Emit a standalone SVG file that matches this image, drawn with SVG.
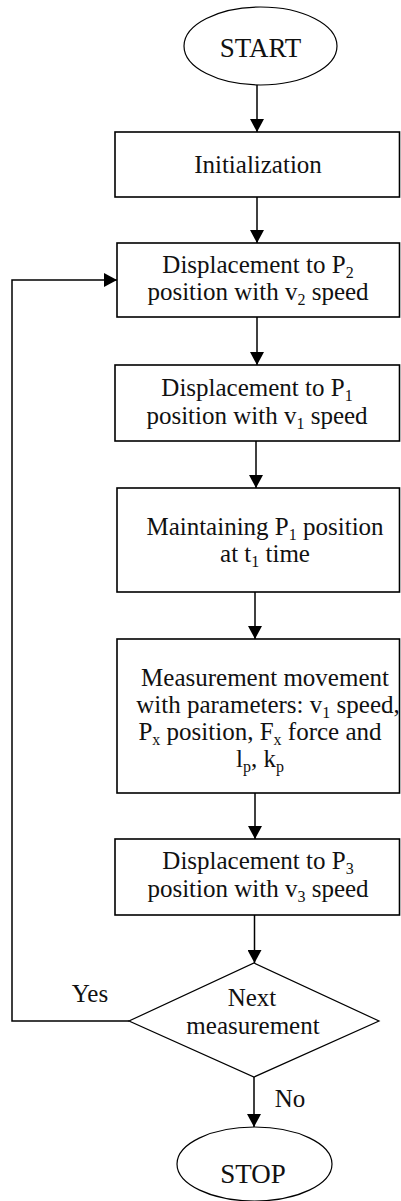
<svg xmlns="http://www.w3.org/2000/svg" width="401" height="1201" viewBox="0 0 401 1201">
<style>
.box{fill:#fff;stroke:#000;stroke-width:1.6}
.ell{fill:#fff;stroke:#000;stroke-width:1.2}
.t{font-size:25px;fill:#111;text-anchor:middle}
.tb{font-size:27px;fill:#111;text-anchor:middle}
.s{font-size:16px}
.c{fill:none;stroke:#000;stroke-width:1.5}
</style>
<defs>
<marker id="ah" markerUnits="userSpaceOnUse" markerWidth="14" markerHeight="14" refX="13" refY="7" orient="auto">
<path d="M0,0 L13,7 L0,14 z" fill="#000"/>
</marker>
</defs>
<rect width="401" height="1201" fill="#fff"/>
<g font-family="Liberation Serif, DejaVu Serif, serif">
<g id="connectors">
<line class="c" x1="257" y1="85" x2="257" y2="132" marker-end="url(#ah)"/>
<line class="c" x1="257" y1="197" x2="257" y2="243" marker-end="url(#ah)"/>
<line class="c" x1="257" y1="317" x2="257" y2="365" marker-end="url(#ah)"/>
<line class="c" x1="256" y1="441" x2="256" y2="488" marker-end="url(#ah)"/>
<line class="c" x1="255" y1="592" x2="255" y2="639" marker-end="url(#ah)"/>
<line class="c" x1="255" y1="793" x2="255" y2="839" marker-end="url(#ah)"/>
<line class="c" x1="254.5" y1="915" x2="254.5" y2="963" marker-end="url(#ah)"/>
<line class="c" x1="254" y1="1077" x2="254" y2="1127" marker-end="url(#ah)"/>
<polyline class="c" points="129,1021 12,1021 12,280 117,280" marker-end="url(#ah)"/>
<text class="t" x="90" y="1002">Yes</text>
<text class="t" x="290" y="1107">No</text>
</g>
<g id="start">
<ellipse class="ell" cx="260.5" cy="46" rx="76.5" ry="39"/>
<text class="tb" x="260.5" y="57">START</text>
</g>
<g id="init">
<rect class="box" x="115" y="132" width="284.5" height="65"/>
<text class="t" x="258" y="173">Initialization</text>
</g>
<g id="disp-p2">
<rect class="box" x="117" y="243" width="282.5" height="74"/>
<text class="t" x="258" y="273">Displacement to P<tspan class="s" baseline-shift="-5">2</tspan></text>
<text class="t" x="258" y="300">position with v<tspan class="s" baseline-shift="-5">2</tspan> speed</text>
</g>
<g id="disp-p1">
<rect class="box" x="115" y="365" width="284.5" height="76"/>
<text class="t" x="257" y="396">Displacement to P<tspan class="s" baseline-shift="-5">1</tspan></text>
<text class="t" x="257" y="424">position with v<tspan class="s" baseline-shift="-5">1</tspan> speed</text>
</g>
<g id="maintain">
<rect class="box" x="117" y="488" width="282.5" height="104"/>
<text class="t" x="265" y="535">Maintaining P<tspan class="s" baseline-shift="-5">1</tspan> position</text>
<text class="t" x="265" y="562">at t<tspan class="s" baseline-shift="-5">1</tspan> time</text>
</g>
<g id="measure">
<rect class="box" x="117" y="639" width="282.5" height="154"/>
<text class="t" x="265" y="686">Measurement movement</text>
<text class="t" x="268" y="713">with parameters: v<tspan class="s" baseline-shift="-5">1</tspan> speed,</text>
<text class="t" x="260" y="740">P<tspan class="s" baseline-shift="-5">x</tspan> position, F<tspan class="s" baseline-shift="-5">x</tspan> force and</text>
<text class="t" x="260" y="767">l<tspan class="s" baseline-shift="-5">p</tspan>, k<tspan class="s" baseline-shift="-5">p</tspan></text>
</g>
<g id="disp-p3">
<rect class="box" x="115" y="839" width="284.5" height="76"/>
<text class="t" x="258" y="869">Displacement to P<tspan class="s" baseline-shift="-5">3</tspan></text>
<text class="t" x="258" y="897">position with v<tspan class="s" baseline-shift="-5">3</tspan> speed</text>
</g>
<g id="decision">
<polygon class="ell" points="254,963 379,1021 254,1077 129,1021"/>
<text class="t" x="252" y="1006">Next</text>
<text class="t" x="253" y="1034">measurement</text>
</g>
<g id="stop">
<ellipse class="ell" cx="254.5" cy="1164" rx="77.5" ry="37"/>
<text class="tb" x="253" y="1183">STOP</text>
</g>
</g>
</svg>
